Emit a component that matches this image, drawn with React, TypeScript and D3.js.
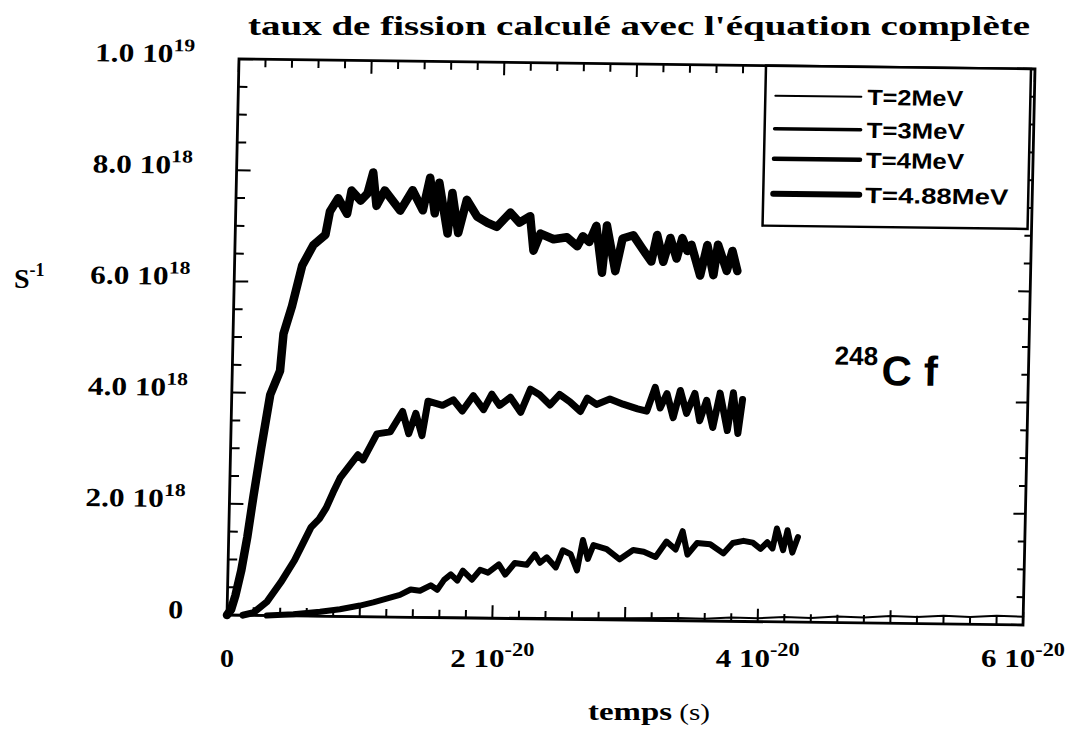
import React from "react";
import * as d3 from "d3";

// time in units of 1e-20 s, rate in units of 1e18 s^-1
const seriesT2: [number, number][] = [
  [0, 0], [1, 0], [2, 0.01], [2.6, 0.02], [3.0, 0.03], [3.4, 0.05], [3.6, 0.04], [3.8, 0.07],
  [4.0, 0.06], [4.2, 0.09], [4.4, 0.08], [4.6, 0.11], [4.8, 0.1], [5.0, 0.13], [5.2, 0.12],
  [5.4, 0.15], [5.6, 0.13], [5.8, 0.16], [6.0, 0.15],
];
const seriesT3: [number, number][] = [
  [0.3, 0], [0.5, 0.03], [0.7, 0.08], [0.85, 0.13], [1.0, 0.2], [1.1, 0.26], [1.2, 0.33], [1.3, 0.4],
  [1.38, 0.5], [1.45, 0.48], [1.53, 0.58], [1.58, 0.5], [1.63, 0.68], [1.68, 0.78], [1.73, 0.67],
  [1.77, 0.85], [1.84, 0.69], [1.9, 0.87], [1.96, 0.82], [2.04, 0.97], [2.09, 0.79], [2.16, 1.0],
  [2.25, 0.97], [2.31, 1.16], [2.35, 1.01], [2.4, 1.11], [2.47, 0.93], [2.52, 1.24], [2.58, 1.17],
  [2.63, 0.88], [2.67, 1.43], [2.71, 1.09], [2.75, 1.34], [2.85, 1.27], [2.95, 1.09], [3.05, 1.26],
  [3.13, 1.23], [3.22, 1.14], [3.3, 1.42], [3.37, 1.28], [3.42, 1.61], [3.46, 1.19], [3.53, 1.4],
  [3.63, 1.38], [3.73, 1.22], [3.8, 1.41], [3.88, 1.45], [3.95, 1.42], [4.01, 1.31], [4.06, 1.43],
  [4.1, 1.32], [4.13, 1.68], [4.18, 1.29], [4.21, 1.65], [4.25, 1.25], [4.29, 1.53],
];
const seriesT4: [number, number][] = [
  [0.12, 0], [0.2, 0.05], [0.3, 0.25], [0.4, 0.6], [0.5, 1.0], [0.56, 1.3], [0.62, 1.6], [0.68, 1.75],
  [0.73, 1.95], [0.78, 2.23], [0.83, 2.49], [0.96, 2.91], [1.0, 2.82], [1.1, 3.29], [1.2, 3.33],
  [1.29, 3.7], [1.34, 3.3], [1.39, 3.67], [1.44, 3.27], [1.48, 3.89], [1.59, 3.82], [1.67, 3.92],
  [1.74, 3.72], [1.82, 4.0], [1.9, 3.75], [1.96, 4.03], [2.02, 3.83], [2.1, 3.98], [2.18, 3.71],
  [2.25, 4.13], [2.32, 4.03], [2.4, 3.85], [2.47, 4.04], [2.55, 3.91], [2.63, 3.74], [2.68, 3.98],
  [2.75, 3.87], [2.85, 3.97], [2.95, 3.88], [3.06, 3.8], [3.13, 3.76], [3.19, 4.19], [3.23, 3.82],
  [3.28, 4.08], [3.33, 3.65], [3.38, 4.14], [3.43, 3.73], [3.49, 4.09], [3.53, 3.6], [3.58, 3.97],
  [3.63, 3.48], [3.68, 4.1], [3.74, 3.43], [3.78, 4.11], [3.82, 3.38], [3.85, 3.99],
];
const seriesT488: [number, number][] = [
  [0, 0], [0.03, 0.1], [0.06, 0.35], [0.1, 0.8], [0.14, 1.4], [0.18, 2.14], [0.23, 3.0], [0.29, 3.97],
  [0.36, 4.4], [0.38, 5.07], [0.44, 5.57], [0.51, 6.3], [0.59, 6.67], [0.68, 6.86], [0.71, 7.28],
  [0.77, 7.52], [0.84, 7.24], [0.87, 7.66], [0.94, 7.48], [0.99, 7.61], [1.03, 7.99], [1.06, 7.39],
  [1.12, 7.67], [1.24, 7.31], [1.33, 7.68], [1.41, 7.32], [1.46, 7.91], [1.5, 7.27], [1.53, 7.82],
  [1.6, 6.91], [1.63, 7.64], [1.68, 6.92], [1.74, 7.52], [1.82, 7.22], [1.9, 7.11], [1.97, 7.04],
  [2.07, 7.3], [2.14, 7.12], [2.22, 7.24], [2.25, 6.62], [2.3, 6.93], [2.4, 6.83], [2.5, 6.87],
  [2.58, 6.71], [2.62, 6.89], [2.67, 6.79], [2.72, 7.08], [2.77, 6.24], [2.8, 7.09], [2.87, 6.27],
  [2.92, 6.86], [3.0, 6.92], [3.07, 6.68], [3.14, 6.45], [3.18, 6.93], [3.23, 6.45], [3.28, 6.88],
  [3.33, 6.51], [3.37, 6.88], [3.41, 6.65], [3.44, 6.76], [3.51, 6.21], [3.56, 6.76], [3.61, 6.22],
  [3.64, 6.77], [3.71, 6.3], [3.75, 6.66], [3.79, 6.3],
];

const legendLabels = ["T=2MeV", "T=3MeV", "T=4MeV", "T=4.88MeV"];
const yTickMant = ["0", "2.0", "4.0", "6.0", "8.0", "1.0"];
const yTickExp = ["", "18", "18", "18", "18", "19"];
const xTickMant = ["0", "2", "4", "6"];
const xTickExp = ["", "-20", "-20", "-20"];

// plot frame geometry (the scanned frame is slightly skewed)
const W = 796;
const H = 556;
const X0 = 239;
const Y0 = 59;
const SLOPE_X = 10 / 796;
const SLOPE_Y = -12 / 556;

export default function App() {
  const x = d3.scaleLinear().domain([0, 6]).range([0, W]);
  const y = d3.scaleLinear().domain([0, 10]).range([H, 0]);
  const line = d3
    .line<[number, number]>()
    .x((d) => x(d[0]))
    .y((d) => y(d[1]));

  const series = [
    { data: seriesT2, w: 2, lw: 2 },
    { data: seriesT3, w: 6, lw: 3.5 },
    { data: seriesT4, w: 7, lw: 4.5 },
    { data: seriesT488, w: 8.5, lw: 6 },
  ];

  const yMinor = y.ticks(20);
  const yMajor = y.ticks(5);
  const xMinor = x.ticks(30);
  const xMajor = x.ticks(6);
  const isMajorY = (v: number) => Math.abs(v / 2 - Math.round(v / 2)) < 1e-6;
  const isMajorX = (v: number) => Math.abs(v - Math.round(v)) < 1e-6;

  const toScreenX = (u: number, v: number) => X0 + u + SLOPE_Y * v;

  const serif = "'Liberation Serif', 'Times New Roman', serif";
  const sans = "'Liberation Sans', Arial, sans-serif";

  const legX0 = 527;
  const legX1 = 792;
  const legY1 = 160;
  const legRows = [30, 63, 93, 128];
  const legTextLen = [96, 98, 98, 143];

  return (
    <svg width={1071} height={730} style={{ display: "block", position: "absolute", left: 0, top: 0, background: "#fff" }}>
      <rect x={0} y={0} width={1071} height={730} fill="#fff" />
      <text x={248} y={35} fontFamily={serif} fontWeight="bold" fontSize={28} textLength={782} lengthAdjust="spacingAndGlyphs">
        taux de fission calculé avec l'équation complète
      </text>

      <g transform={`matrix(1,${SLOPE_X},${SLOPE_Y},1,${X0},${Y0})`}>
        <rect x={0} y={0} width={W} height={H} fill="none" stroke="#000" strokeWidth={2.8} />
        {yMinor.map((v) => {
          const len = isMajorY(v) ? 14 : 9;
          return (
            <g key={"y" + v}>
              <line x1={0} x2={len} y1={y(v)} y2={y(v)} stroke="#000" strokeWidth={2} />
              <line x1={W} x2={W - len + 2} y1={y(v)} y2={y(v)} stroke="#000" strokeWidth={2} />
            </g>
          );
        })}
        {xMinor.map((v) => {
          const len = isMajorX(v) ? 13 : 8;
          return (
            <g key={"x" + v}>
              <line x1={x(v)} x2={x(v)} y1={0} y2={len} stroke="#000" strokeWidth={2} />
              <line x1={x(v)} x2={x(v)} y1={H} y2={H - len} stroke="#000" strokeWidth={2} />
            </g>
          );
        })}

        {yMajor.map((v, i) => (
          <text
            key={"yl" + v}
            x={-44}
            y={y(v) + 4}
            textAnchor="end"
            fontFamily={serif}
            fontWeight="bold"
            fontSize={26}
            textLength={yTickExp[i] ? 100 : 15}
            lengthAdjust="spacingAndGlyphs"
          >
            {yTickMant[i]}
            {yTickExp[i] ? (
              <>
                <tspan>{" 10"}</tspan>
                <tspan dy={-11} fontSize={18}>{yTickExp[i]}</tspan>
              </>
            ) : null}
          </text>
        ))}

        {series.map((s, i) => (
          <path key={"s" + i} d={line(s.data) || ""} fill="none" stroke="#000" strokeWidth={s.w} strokeLinejoin="round" strokeLinecap="round" />
        ))}

        <rect x={legX0} y={0} width={legX1 - legX0} height={legY1} fill="#fff" stroke="#000" strokeWidth={2.5} />
        {series.map((s, i) => (
          <g key={"lg" + i}>
            <line x1={legX0 + 10} x2={legX0 + 96} y1={legRows[i]} y2={legRows[i]} stroke="#000" strokeWidth={s.lw} strokeLinecap="round" />
            <text
              x={legX0 + 102}
              y={legRows[i] + 8}
              fontFamily={sans}
              fontWeight="bold"
              fontSize={22}
              textLength={legTextLen[i]}
              lengthAdjust="spacingAndGlyphs"
            >
              {legendLabels[i]}
            </text>
          </g>
        ))}

        <text x={602} y={298} fontFamily={sans} fontWeight="bold" fontSize={26}>248</text>
        <text x={649} y={318} fontFamily={sans} fontWeight="bold" fontSize={42} letterSpacing={12}>Cf</text>
      </g>

      {xMajor
        .filter((v) => v % 2 === 0)
        .map((v, i) => (
          <text
            key={"xl" + v}
            x={toScreenX(x(v), H)}
            y={667}
            textAnchor="middle"
            fontFamily={serif}
            fontWeight="bold"
            fontSize={25}
            textLength={xTickExp[i] ? 84 : 14}
            lengthAdjust="spacingAndGlyphs"
          >
            {xTickMant[i]}
            {xTickExp[i] ? (
              <>
                <tspan>{" 10"}</tspan>
                <tspan dy={-11} fontSize={18}>{xTickExp[i]}</tspan>
              </>
            ) : null}
          </text>
        ))}

      <text x={588} y={720} fontFamily={serif} fontSize={26} textLength={122} lengthAdjust="spacingAndGlyphs">
        <tspan fontWeight="bold">temps</tspan>
        <tspan fontSize={23}>{" (s)"}</tspan>
      </text>
      <text x={14} y={288} fontFamily={serif} fontWeight="bold" fontSize={28}>
        S<tspan dy={-12} fontSize={18}>-1</tspan>
      </text>
    </svg>
  );
}
